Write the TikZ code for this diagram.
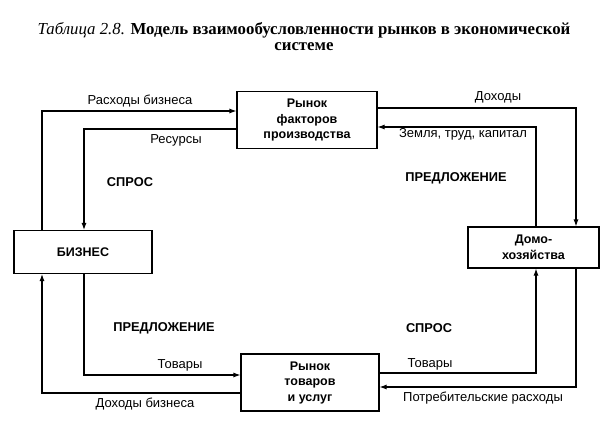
\documentclass[tikz,border=0pt]{standalone}
\usepackage{fontspec}
\setmainfont{Liberation Serif}
\newfontfamily\labfont{Liberation Sans}
\usetikzlibrary{arrows.meta}
\tikzset{
  market/.style={draw,line width=1.1pt,align=center,inner sep=0pt,
    font=\labfont\bfseries\fontsize{12.5}{15.5}\selectfont},
  flow/.style={line width=1.1pt,-{Latex[length=7pt,width=5pt]}},
  lab/.style={font=\labfont\fontsize{13}{14}\selectfont},
  side/.style={font=\labfont\bfseries\fontsize{12.8}{14}\selectfont}
}
\begin{document}
\begin{tikzpicture}[x=1pt,y=-1pt]
\useasboundingbox (0,0) rectangle (612,423);
\node[align=center,font=\fontsize{16.8}{16}\selectfont] (title) at (304,37)
  {\textit{Таблица 2.8.} \textbf{Модель взаимообусловленности рынков в экономической}\\
   \textbf{системе}};

% boxes
\node[market,minimum width=140pt,minimum height=57pt] (fm) at (307,120) {Рынок\\факторов\\производства};
\node[market,minimum width=138pt,minimum height=43pt] (biz) at (83,252) {БИЗНЕС};
\node[market,minimum width=131pt,minimum height=41pt] (home) at (533.5,247.5) {Домо-\\хозяйства};
\node[market,minimum width=138pt,minimum height=57pt] (gm) at (310,382.5) {Рынок\\товаров\\и услуг};

% corners
\coordinate (c1) at (42,111);
\coordinate (c2) at (84,129);
\coordinate (c3) at (576,108);
\coordinate (c4) at (536,127);
\coordinate (c5) at (84,375);
\coordinate (c6) at (42,393);
\coordinate (c7) at (576,387);
\coordinate (c8) at (536,373);

% upper half
\draw[flow] (c1 |- biz.north) -- (c1) -- (c1 -| fm.west);
\draw[flow] (c2 -| fm.west) -- (c2) -- (c2 |- biz.north);
\draw[flow] (c3 -| fm.east) -- (c3) -- (c3 |- home.north);
\draw[flow] (c4 |- home.north) -- (c4) -- (c4 -| fm.east);
% lower half
\draw[flow] (c5 |- biz.south) -- (c5) -- (c5 -| gm.west);
\draw[flow] (c6 -| gm.west) -- (c6) -- (c6 |- biz.south);
\draw[flow] (c7 |- home.south) -- (c7) -- (c7 -| gm.east);
\draw[flow] (c8 -| gm.east) -- (c8) -- (c8 |- home.south);

% labels
\node[lab] (l1) at (140,101) {Расходы бизнеса};
\node[lab] (l2) at (176,140) {Ресурсы};
\node[lab] (l3) at (498,97) {Доходы};
\node[lab] (l4) at (463,134) {Земля, труд, капитал};
\node[lab] (l5) at (180,365) {Товары};
\node[lab] (l6) at (145,404) {Доходы бизнеса};
\node[lab] (l7) at (430,364) {Товары};
\node[lab] (l8) at (483,398) {Потребительские расходы};
\node[side] (s1) at (130,182) {СПРОС};
\node[side] (s2) at (456,178) {ПРЕДЛОЖЕНИЕ};
\node[side] (s3) at (164,328) {ПРЕДЛОЖЕНИЕ};
\node[side] (s4) at (429,328) {СПРОС};
\end{tikzpicture}
\end{document}
